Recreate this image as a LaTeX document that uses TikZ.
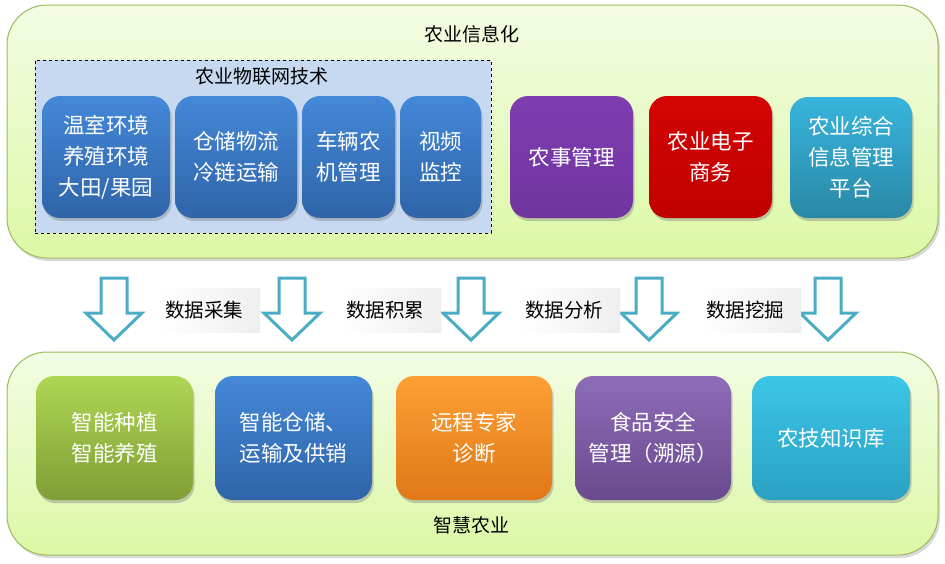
\documentclass[tikz,border=0pt]{standalone}
\usepackage{fontspec}
\newfontfamily\cjk{Noto Sans CJK SC}
\usetikzlibrary{shadows}
\definecolor{panelborder}{HTML}{9BBB59}
\definecolor{paneltop}{HTML}{F3FCE3}
\definecolor{panelbot}{HTML}{DCF8A6}
\definecolor{iotfill}{HTML}{C6D9F0}
\definecolor{bluetop}{HTML}{4488D8}
\definecolor{bluebot}{HTML}{2F64A8}
\definecolor{purptop}{HTML}{7E3DB0}
\definecolor{purpbot}{HTML}{7035A0}
\definecolor{redtop}{HTML}{D40404}
\definecolor{redbot}{HTML}{C00000}
\definecolor{tealtop}{HTML}{38B4DC}
\definecolor{tealbot}{HTML}{2A88A6}
\definecolor{greentop}{HTML}{AED653}
\definecolor{greenbot}{HTML}{7F9E36}
\definecolor{orangetop}{HTML}{FDA034}
\definecolor{orangebot}{HTML}{E07818}
\definecolor{violettop}{HTML}{8E6CB8}
\definecolor{violetbot}{HTML}{6A4A8E}
\definecolor{cyantop}{HTML}{3CC6E8}
\definecolor{cyanbot}{HTML}{2AA0C2}
\definecolor{arrowline}{HTML}{4BACC6}
\definecolor{labelgray}{HTML}{EEEEEE}
\tikzset{
  panel/.style={draw=panelborder, line width=1pt, rounded corners=40pt,
    top color=paneltop, bottom color=panelbot,
    drop shadow={opacity=0.3, shadow xshift=2pt, shadow yshift=-3pt}},
  card/.style={rounded corners=18pt, inner sep=0pt, align=center, text=white,
    font={\cjk\fontsize{21.5}{31}\selectfont},
    drop shadow={opacity=0.4, shadow xshift=1.5pt, shadow yshift=-3pt}},
  title/.style={font={\cjk\fontsize{19}{22}\selectfont}, text=black, inner sep=0pt},
  datalabel/.style={left color=white, right color=labelgray, inner sep=0pt,
    minimum width=100pt, minimum height=44pt},
  datatext/.style={font={\cjk\fontsize{19.5}{22}\selectfont}, text=black, inner sep=0pt, anchor=west},
  downarrow/.style={draw=arrowline, line width=3pt, fill=white, line join=miter}
}
\begin{document}
\begin{tikzpicture}[x=1pt,y=-1pt]
\useasboundingbox (0,0) rectangle (945,563);
% top panel
\node[panel, minimum width=931pt, minimum height=253pt, inner sep=0pt] (top) at (472.5,131.5) {};
\node[title] (toptitle) at (472,34) {农业信息化};
\node[draw=black, dashed, fill=iotfill, minimum width=456pt, minimum height=173pt, inner sep=0pt] (iot) at (263,146.5) {};
\node[title] (iottitle) at (262,76) {农业物联网技术};
\node[card, top color=bluetop, bottom color=bluebot, minimum width=128pt, minimum height=122pt] (b1) at (106,157) {温室环境\\养殖环境\\大田/果园};
\node[card, top color=bluetop, bottom color=bluebot, minimum width=122pt, minimum height=122pt] (b2) at (236,157) {仓储物流\\冷链运输};
\node[card, top color=bluetop, bottom color=bluebot, minimum width=93pt, minimum height=122pt] (b3) at (348.5,157) {车辆农\\机管理};
\node[card, top color=bluetop, bottom color=bluebot, minimum width=81pt, minimum height=122pt] (b4) at (440.5,157) {视频\\监控};
\node[card, top color=purptop, bottom color=purpbot, minimum width=123pt, minimum height=122pt] (b5) at (571.5,157) {农事管理};
\node[card, top color=redtop, bottom color=redbot, minimum width=123pt, minimum height=122pt] (b6) at (710.5,157) {农业电子\\商务};
\node[card, top color=tealtop, bottom color=tealbot, minimum width=122pt, minimum height=121pt] (b7) at (851,157.5) {农业综合\\信息管理\\平台};
% arrows
\foreach \c in {114,292,471,649,828}{
  \draw[downarrow] (\c-13,278) -- (\c+13,278) -- (\c+13,313) -- (\c+28,313)
    -- (\c,340) -- (\c-28,313) -- (\c-13,313) -- cycle;
}
\node[datalabel] (l1) at (210,310) {};
\node[datatext] (t1) at (165,310) {数据采集};
\node[datalabel] (l2) at (391,310) {};
\node[datatext] (t2) at (346,310) {数据积累};
\node[datalabel] (l3) at (570,310) {};
\node[datatext] (t3) at (525,310) {数据分析};
\node[datalabel] (l4) at (751,310) {};
\node[datatext] (t4) at (706,310) {数据挖掘};
% bottom panel
\node[panel, minimum width=931pt, minimum height=203pt, inner sep=0pt] (bot) at (472.5,453.5) {};
\node[card, top color=greentop, bottom color=greenbot, minimum width=157pt, minimum height=124pt] (c1) at (114.5,438) {智能种植\\智能养殖};
\node[card, top color=bluetop, bottom color=bluebot, minimum width=157pt, minimum height=124pt] (c2) at (293.5,438) {智能仓储、\\运输及供销};
\node[card, top color=orangetop, bottom color=orangebot, minimum width=156pt, minimum height=124pt] (c3) at (474,438) {远程专家\\诊断};
\node[card, top color=violettop, bottom color=violetbot, minimum width=156pt, minimum height=124pt] (c4) at (653,438) {食品安全\\管理（溯源）};
\node[card, top color=cyantop, bottom color=cyanbot, minimum width=158pt, minimum height=124pt] (c5) at (831,438) {农技知识库};
\node[title] (bottitle) at (471,525) {智慧农业};
\end{tikzpicture}
\end{document}
